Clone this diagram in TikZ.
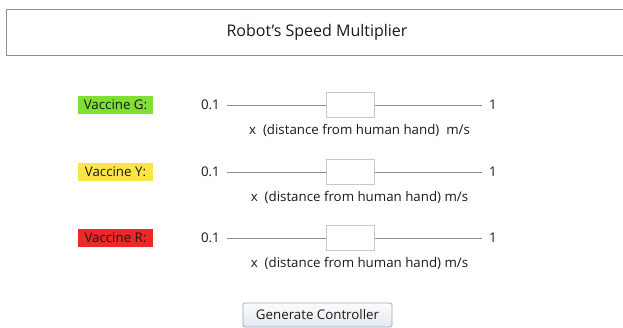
\documentclass[tikz,border=0pt]{standalone}
\usepackage{fontspec}
\setmainfont{Open Sans}[Ligatures=ResetAll]
\definecolor{framegray}{RGB}{145,145,145}
\definecolor{trackgray}{RGB}{140,140,140}
\definecolor{thumbgray}{RGB}{200,200,200}
\definecolor{tagG}{RGB}{128,222,52}
\definecolor{tagY}{RGB}{250,228,70}
\definecolor{tagR}{RGB}{236,40,40}
\definecolor{btnborder}{RGB}{150,168,188}
\definecolor{btntop}{RGB}{252,252,252}
\definecolor{btnbot}{RGB}{228,232,238}
\definecolor{ink}{RGB}{25,25,25}
\tikzset{
  x=1pt, y=-1pt,
  every node/.style={inner sep=0pt, text=ink},
  tag/.style={minimum width=75pt, minimum height=17.5pt, font=\fontsize{13.3}{14}\selectfont},
  endval/.style={font=\fontsize{13.3}{14}\selectfont},
  track/.style={draw=trackgray, line width=0.8pt},
  thumb/.style={draw=thumbgray, fill=white, line width=0.8pt, minimum width=48pt, minimum height=25pt},
  caption/.style={font=\fontsize{13.3}{14}\selectfont},
}
\begin{document}
\begin{tikzpicture}
\useasboundingbox[fill=white] (0,0) rectangle (623,328);
% header panel, open at the right
\draw[framegray, line width=1.8pt] (640,9.5) -- (6.5,9.5) -- (6.5,55.5) -- (640,55.5);
\node[font=\fontsize{16}{18}\selectfont] (title) at (317,32.5) {Robot's Speed Multiplier};
% slider rows
\foreach \yy/\lab/\col/\cap [count=\i] in {105/G/tagG/{x\ \ (distance from human hand)\ \ m/s},
                                    172/Y/tagY/{x\ \ (distance from human hand) m/s},
                                    238/R/tagR/{x\ \ (distance from human hand) m/s}} {
  \node[tag, fill=\col] (tag\i) at (115.5,\yy) {Vaccine \lab:};
  \node[endval, anchor=east] (lo\i) at (220,\yy) {0.1};
  \node[endval, anchor=west] (hi\i) at (489,\yy) {1};
  \coordinate (a\i) at (227,\yy);
  \coordinate (b\i) at (482,\yy);
  \draw[track] (a\i) -- (b\i);
  \node[thumb] (knob\i) at (350,\yy) {};
  \node[caption] (cap\i) at (359.5,\yy+25) {\cap};
}
% button
\node[draw=btnborder, line width=0.9pt, rounded corners=1.5pt, top color=btntop, bottom color=btnbot,
      minimum width=149pt, minimum height=24pt, font=\fontsize{13.3}{14}\selectfont] (gen) at (317.5,315) {Generate Controller};
\end{tikzpicture}
\end{document}
